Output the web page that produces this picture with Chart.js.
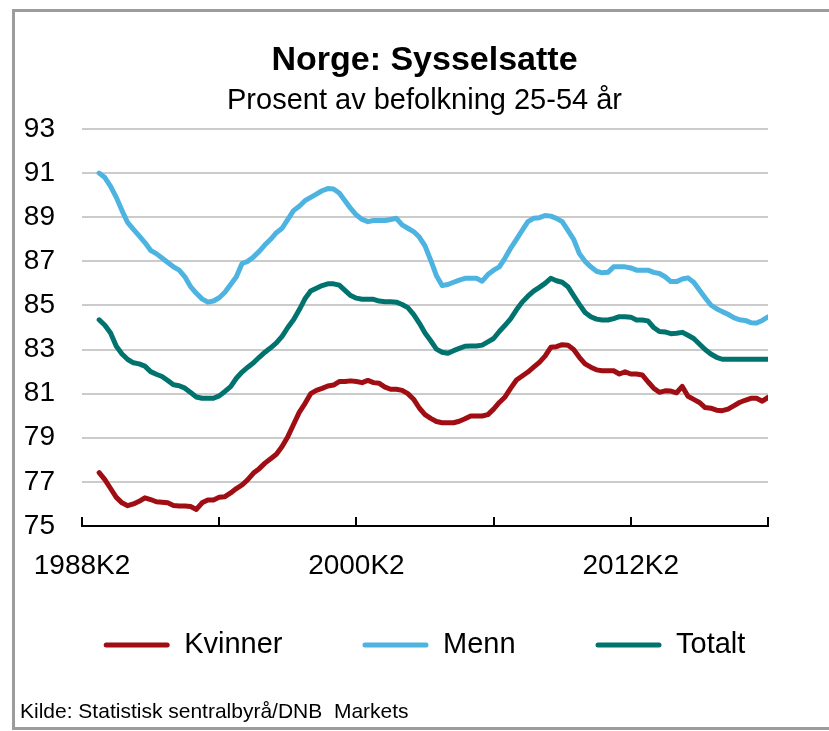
<!DOCTYPE html>
<html>
<head>
<meta charset="utf-8">
<script src="https://cdn.jsdelivr.net/npm/chart.js@4.4.1/dist/chart.umd.min.js"></script>
<style>
  html, body { margin: 0; padding: 0; background: #fff; }
  body { width: 829px; height: 731px; position: relative; overflow: hidden; font-family: 'Liberation Sans', Arial, sans-serif; }
  #frame { position: absolute; left: 12px; top: 9px; width: 830px; height: 715px; border: 3px solid #9c9c9c; border-right: none; }
  #chart { position: absolute; left: 0; top: 0; }
  #source { position: absolute; left: 20px; top: 700px; font-size: 21px; line-height: 1; color: #000; white-space: pre; }
</style>
</head>
<body>
<div id="frame"></div>
<canvas id="chart" width="829" height="731"></canvas>
<div id="source">Kilde: Statistisk sentralbyrå/DNB  Markets</div>
<script>
// Quarters (Norwegian "K" = kvartal)
const quarters = [
  "1989K1","1989K2","1989K3","1989K4",
  "1990K1","1990K2","1990K3","1990K4",
  "1991K1","1991K2","1991K3","1991K4",
  "1992K1","1992K2","1992K3","1992K4",
  "1993K1","1993K2","1993K3","1993K4",
  "1994K1","1994K2","1994K3","1994K4",
  "1995K1","1995K2","1995K3","1995K4",
  "1996K1","1996K2","1996K3","1996K4",
  "1997K1","1997K2","1997K3","1997K4",
  "1998K1","1998K2","1998K3","1998K4",
  "1999K1","1999K2","1999K3","1999K4",
  "2000K1","2000K2","2000K3","2000K4",
  "2001K1","2001K2","2001K3","2001K4",
  "2002K1","2002K2","2002K3","2002K4",
  "2003K1","2003K2","2003K3","2003K4",
  "2004K1","2004K2","2004K3","2004K4",
  "2005K1","2005K2","2005K3","2005K4",
  "2006K1","2006K2","2006K3","2006K4",
  "2007K1","2007K2","2007K3","2007K4",
  "2008K1","2008K2","2008K3","2008K4",
  "2009K1","2009K2","2009K3","2009K4",
  "2010K1","2010K2","2010K3","2010K4",
  "2011K1","2011K2","2011K3","2011K4",
  "2012K1","2012K2","2012K3","2012K4",
  "2013K1","2013K2","2013K3","2013K4",
  "2014K1","2014K2","2014K3","2014K4",
  "2015K1","2015K2","2015K3","2015K4",
  "2016K1","2016K2","2016K3","2016K4",
  "2017K1","2017K2","2017K3","2017K4",
  "2018K1","2018K2"
];

const kvinner = [
  77.42,77.10,76.70,76.30, 76.05,75.92,76.00,76.12, 76.28,76.20,76.10,76.08,
  76.05,75.93,75.91,75.91, 75.88,75.75,76.05,76.18, 76.18,76.30,76.33,76.50,
  76.70,76.86,77.10,77.40, 77.60,77.85,78.05,78.25, 78.60,79.05,79.60,80.15,
  80.55,81.00,81.15,81.24, 81.35,81.39,81.55,81.55, 81.58,81.55,81.50,81.60,
  81.50,81.47,81.30,81.20, 81.20,81.15,81.00,80.75, 80.35,80.05,79.88,79.74,
  79.68,79.68,79.68,79.75, 79.86,79.99,79.99,79.99, 80.05,80.30,80.60,80.85,
  81.25,81.62,81.80,81.98, 82.20,82.42,82.70,83.10, 83.13,83.22,83.20,83.00,
  82.65,82.35,82.20,82.08, 82.04,82.04,82.04,81.89, 81.99,81.89,81.89,81.85,
  81.54,81.25,81.06,81.13, 81.12,81.04,81.33,80.88, 80.74,80.60,80.37,80.34,
  80.25,80.23,80.30,80.45, 80.60,80.70,80.79,80.79, 80.66,80.83
];

const menn = [
  91.00,90.80,90.40,89.90, 89.30,88.75,88.45,88.15, 87.85,87.50,87.35,87.15,
  86.95,86.75,86.60,86.30, 85.85,85.55,85.30,85.15, 85.20,85.35,85.60,85.95,
  86.30,86.90,87.00,87.20, 87.45,87.75,88.00,88.30, 88.50,88.90,89.30,89.50,
  89.75,89.90,90.05,90.20, 90.30,90.28,90.10,89.75, 89.40,89.10,88.90,88.80,
  88.85,88.85,88.85,88.90, 88.95,88.65,88.50,88.35, 88.10,87.70,87.05,86.35,
  85.90,85.95,86.05,86.15, 86.23,86.23,86.23,86.10, 86.40,86.60,86.75,87.15,
  87.60,88.00,88.40,88.80, 88.95,88.98,89.08,89.05, 88.95,88.80,88.40,88.00,
  87.35,87.00,86.75,86.55, 86.48,86.50,86.75,86.75, 86.75,86.70,86.60,86.60,
  86.60,86.50,86.45,86.30, 86.08,86.08,86.20,86.25, 86.05,85.70,85.35,85.02,
  84.85,84.72,84.60,84.45, 84.35,84.32,84.22,84.20, 84.32,84.48
];

const totalt = [
  84.35,84.10,83.75,83.15, 82.80,82.55,82.40,82.35, 82.25,82.00,81.88,81.78,
  81.60,81.40,81.36,81.25, 81.05,80.85,80.79,80.79, 80.79,80.90,81.10,81.32,
  81.70,81.98,82.20,82.40, 82.65,82.88,83.08,83.30, 83.60,84.00,84.35,84.80,
  85.30,85.65,85.78,85.90, 85.98,85.98,85.92,85.68, 85.45,85.33,85.28,85.28,
  85.28,85.20,85.17,85.17, 85.15,85.04,84.90,84.60, 84.20,83.75,83.40,83.02,
  82.88,82.83,82.95,83.05, 83.15,83.16,83.16,83.20, 83.35,83.50,83.82,84.10,
  84.40,84.80,85.15,85.42, 85.65,85.82,86.00,86.23, 86.12,86.05,85.85,85.45,
  85.05,84.68,84.49,84.38, 84.34,84.34,84.40,84.49, 84.49,84.47,84.34,84.34,
  84.30,84.00,83.82,83.80, 83.72,83.74,83.78,83.65, 83.50,83.25,83.00,82.80,
  82.65,82.56,82.56,82.56, 82.56,82.56,82.56,82.56, 82.56,82.56
];

const seriesNames = ["Kvinner", "Menn", "Totalt"];
const seriesColors = ["#a00d13", "#4db3e0", "#00736e"];

// Axis
const axisStart = "1988K2";
const axisEnd = "2018K2";
const xTickLabels = ["1988K2", "2000K2", "2012K2"];
const yMin = 75, yMax = 93, yStep = 2;

function qIndex(label) {
  const y = parseInt(label.slice(0, 4), 10);
  const q = parseInt(label.slice(5), 10);
  const y0 = parseInt(axisStart.slice(0, 4), 10);
  const q0 = parseInt(axisStart.slice(5), 10);
  return (y - y0) * 4 + (q - q0);
}
function qLabel(idx) {
  const y0 = parseInt(axisStart.slice(0, 4), 10);
  const q0 = parseInt(axisStart.slice(5), 10);
  const n = idx + (q0 - 1);
  return (y0 + Math.floor(n / 4)) + "K" + ((n % 4) + 1);
}

const toPoints = vals => vals.map((v, i) => ({ x: qIndex(quarters[i]), y: v }));
const seriesData = [kvinner, menn, totalt];

const tickMarks = {
  id: 'tickMarks',
  afterDraw(chart) {
    const { ctx, chartArea } = chart;
    const x = chart.scales.x;
    ctx.save();
    ctx.strokeStyle = '#000';
    ctx.lineWidth = 2;
    x.ticks.forEach(t => {
      const px = Math.round(x.getPixelForValue(t.value));
      ctx.beginPath();
      ctx.moveTo(px, chartArea.bottom);
      ctx.lineTo(px, chartArea.bottom - 9);
      ctx.stroke();
    });
    ctx.restore();
  }
};

Chart.defaults.font.family = "'Liberation Sans', Arial, sans-serif";
Chart.defaults.color = '#000';

new Chart(document.getElementById('chart'), {
  type: 'line',
  data: {
    datasets: seriesNames.map((name, k) => ({
      label: name,
      data: toPoints(seriesData[k]),
      borderColor: seriesColors[k],
      backgroundColor: seriesColors[k],
      borderWidth: 5,
      pointRadius: 0,
      tension: 0,
      borderCapStyle: 'round',
      borderJoinStyle: 'round',
      yAxisID: 'y'
    }))
  },
  options: {
    responsive: false,
    animation: false,
    devicePixelRatio: 1,
    layout: { padding: { left: 20, right: 0, top: 0, bottom: 61.5 } },
    plugins: {
      title: {
        display: true,
        text: 'Norge: Sysselsatte',
        color: '#000',
        font: { size: 34, weight: 'bold' },
        padding: { top: 40.6, bottom: 0 }
      },
      subtitle: {
        display: true,
        text: 'Prosent av befolkning 25-54 år',
        color: '#000',
        font: { size: 29, weight: 'normal' },
        padding: { top: 2, bottom: 10.8 }
      },
      legend: {
        position: 'bottom',
        title: {
          display: true,
          text: '',
          font: { size: 10 },
          padding: { top: -44.5, bottom: 0 }
        },
        labels: {
          font: { size: 29 },
          color: '#000',
          boxWidth: 66,
          boxHeight: 5,
          padding: 80,
          generateLabels(chart) {
            return chart.data.datasets.map((ds, i) => ({
              text: ds.label,
              fillStyle: ds.borderColor,
              strokeStyle: ds.borderColor,
              lineWidth: 0,
              borderRadius: 2.5,
              hidden: false,
              datasetIndex: i
            }));
          }
        }
      },
      tooltip: { enabled: false }
    },
    scales: {
      x: {
        type: 'linear',
        min: qIndex(axisStart),
        max: qIndex(axisEnd),
        grid: { display: false, drawTicks: false },
        border: { display: true, color: '#000', width: 2 },
        ticks: {
          stepSize: 24,
          autoSkip: false,
          maxRotation: 0,
          padding: 23,
          font: { size: 28 },
          color: '#000',
          callback: v => {
            const l = qLabel(v);
            return xTickLabels.includes(l) ? l : '';
          }
        },
        afterFit: s => { s.height = 57; }
      },
      y: {
        position: 'left',
        min: yMin,
        max: yMax,
        grid: { color: '#cbcbcb', lineWidth: 2, drawTicks: false },
        border: { display: false },
        ticks: { stepSize: yStep, autoSkip: false, padding: 27, font: { size: 28 }, color: '#000' },
        afterFit: s => { s.width = 62; }
      },
      y2: {
        position: 'right',
        display: true,
        grid: { display: false, drawTicks: false },
        border: { display: false },
        ticks: { display: false },
        afterFit: s => { s.width = 61; }
      }
    }
  },
  plugins: [tickMarks]
});
</script>
</body>
</html>
